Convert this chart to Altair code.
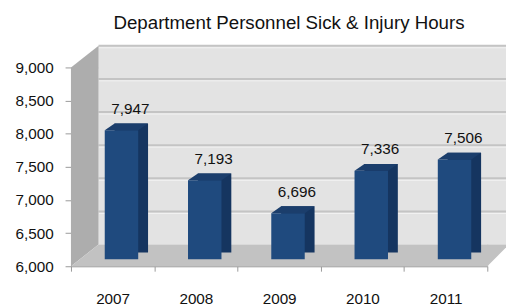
import altair as alt
import pandas as pd

years = ["2007", "2008", "2009", "2010", "2011"]
hours = [7947, 7193, 6696, 7336, 7506]
y_ticks = [6000, 6500, 7000, 7500, 8000, 8500, 9000]
grid_vals = [6500, 7000, 7500, 8000, 8500, 9000]
title_text = "Department Personnel Sick & Injury Hours"

FONT = "Liberation Sans, Arial, sans-serif"
W, H = 423, 202

df = pd.DataFrame({"year": years, "hours": hours})
grid_df = pd.DataFrame({"v": grid_vals})
anchor_df = pd.DataFrame({"a": [0]})

xenc = alt.X("year:N", sort=years,
             scale=alt.Scale(paddingInner=0, paddingOuter=0),
             axis=alt.Axis(title=None, labelAngle=0, labelFont=FONT, labelFontSize=15.5,
                           labelColor="#111", labelPadding=21, tickBand="extent",
                           tickSize=5, tickColor="#999", domainColor="#999",
                           grid=False))
yscale = alt.Scale(domain=[6000, 9000], nice=False, zero=False)
yaxis = alt.Axis(title=None, values=y_ticks, labelExpr="format(datum.value, ',.0f')",
                 labelFont=FONT, labelFontSize=15.5, labelColor="#111", labelPadding=12,
                 tickSize=6, tickColor="#999", domainColor="#999", grid=False)
yenc = alt.Y("hours:Q", scale=yscale, axis=yaxis)

base = alt.Chart(df)

# floor and side wall (decoration, anchored at plot origin bottom-left)
floor = alt.Chart(anchor_df).mark_point(
    shape="M0,0 L28,-22 L445,-22 L423,0 Z", size=4, filled=True, opacity=1,
    color="#c2c2c2", strokeWidth=0
).encode(x=alt.value(0), y=alt.value(H))

side_wall = alt.Chart(anchor_df).mark_point(
    shape="M0,0 L0,-202 L28,-224 L28,-22 Z", size=4, filled=True, opacity=1,
    color="#adadad", strokeWidth=0
).encode(x=alt.value(0), y=alt.value(H))

back_wall = alt.Chart(anchor_df).mark_rect(
    color="#e3e3e3", yOffset=-22, y2Offset=-22
).encode(x=alt.value(28), x2=alt.value(450),
         y=alt.datum(9000, scale=yscale, axis=yaxis), y2=alt.datum(6000))

grid = alt.Chart(grid_df).mark_rule(
    color="#c4c4c4", strokeWidth=2, yOffset=-22
).encode(x=alt.value(28), x2=alt.value(450),
         y=alt.Y("v:Q", scale=yscale, axis=yaxis))

grid_hi = alt.Chart(grid_df).mark_rule(
    color="#f2f2f2", strokeWidth=1, yOffset=-20
).encode(x=alt.value(28), x2=alt.value(450),
         y=alt.Y("v:Q", scale=yscale, axis=yaxis))

back_bar = base.mark_bar(width=34, color="#153560", xOffset=19, yOffset=-14, y2Offset=-14).encode(
    x=xenc, y=yenc, y2=alt.datum(6000))

front_bar = base.mark_bar(width=34, color="#1f4a7e", xOffset=9, yOffset=-7, y2Offset=-7).encode(
    x=xenc, y=yenc, y2=alt.datum(6000))

top_face = base.mark_point(
    shape="M-17,0 L-7,-7 L27,-7 L17,0 Z", size=4, filled=True, opacity=1,
    color="#1b3e6c", strokeWidth=0, xOffset=9, yOffset=-7
).encode(x=xenc, y=yenc)

labels = base.mark_text(
    font=FONT, fontSize=15.5, color="#111", dx=18, dy=-24, baseline="alphabetic"
).encode(x=xenc, y=yenc, text=alt.Text("hours:Q", format=","))

chart = alt.layer(
    back_wall, grid, grid_hi, side_wall, floor, back_bar, front_bar, top_face, labels
).properties(
    width=W, height=H,
    autosize=alt.AutoSizeParams(type="none"),
    padding={"left": 64, "top": 58, "right": 19, "bottom": 38},
    title=alt.Title(title_text, font=FONT, fontSize=19, fontWeight="normal",
                    color="#111", anchor="middle", dx=10, offset=12)
).configure_view(stroke=None).configure(background="white")

chart.save("out.html", embed_options={"renderer": "svg", "actions": False})
